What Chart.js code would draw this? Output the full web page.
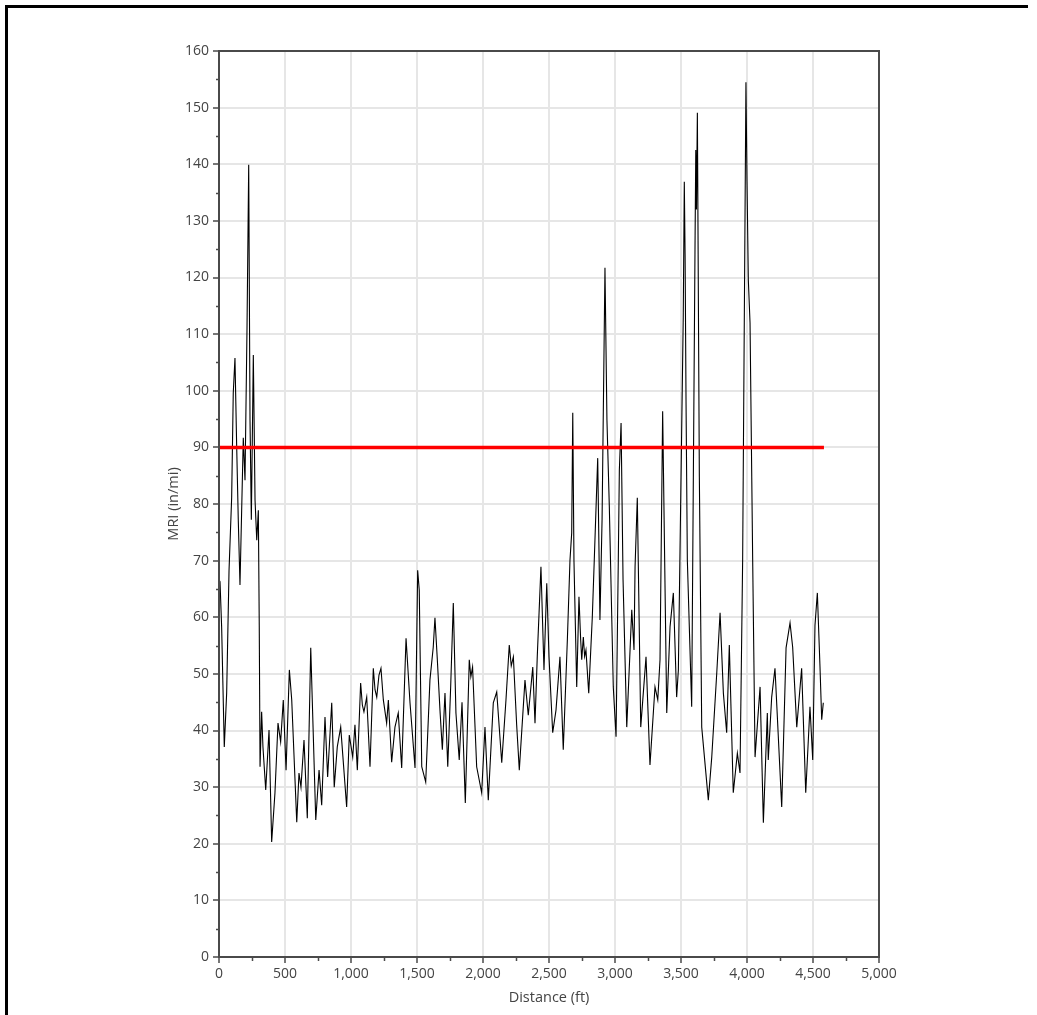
<!DOCTYPE html>
<html>
<head>
<meta charset="utf-8">
<script src="https://cdn.jsdelivr.net/npm/chart.js@4.4.1/dist/chart.umd.min.js"></script>
<style>
  body { margin: 0; background: #fff; }
  .frame {
    position: absolute; left: 5px; top: 5px; width: 1020px; height: 1010px;
    border-top: 3px solid #000; border-left: 3px solid #000;
  }
  #mriChart { position: absolute; left: 0; top: 0; }
</style>
</head>
<body>
<div class="frame"></div>
<canvas id="mriChart" width="1037" height="1015"></canvas>
<script>
// distance along the profile (ft)
const distance = [
  0, 8, 20, 40, 58, 76, 96, 108, 121, 134, 146, 159, 184, 197, 212, 225, 235, 245, 260, 273,
  286, 298, 305, 311, 323, 333, 354, 379, 399, 424, 447, 467, 487, 508, 533, 551, 589, 606, 621, 644,
  669, 695, 733, 758, 778, 803, 823, 854, 873, 896, 922, 967, 987, 1013, 1030, 1048, 1073, 1086, 1098, 1119, 1144,
  1169, 1182, 1195, 1212, 1227, 1245, 1270, 1283, 1308, 1333, 1358, 1384, 1417, 1447, 1485, 1505, 1517, 1536, 1566, 1598, 1623, 1636,
  1654, 1674, 1692, 1712, 1733, 1755, 1775, 1795, 1820, 1841, 1866, 1896, 1908, 1921, 1952, 1990, 2015, 2040, 2078, 2104, 2142,
  2174, 2199, 2214, 2230, 2255, 2275, 2318, 2343, 2377, 2394, 2411, 2439, 2462, 2483, 2500, 2528, 2553, 2583, 2608, 2639, 2659,
  2672, 2680, 2689, 2710, 2727, 2740, 2748, 2760, 2770, 2780, 2801, 2828, 2843, 2869, 2886, 2902, 2924, 2939, 2957, 2987, 3008,
  3025, 3033, 3046, 3061, 3089, 3127, 3144, 3152, 3169, 3195, 3235, 3265, 3303, 3324, 3341, 3361, 3392, 3417, 3442, 3467,
  3480, 3517, 3525, 3531, 3538, 3548, 3581, 3606, 3612, 3617, 3624, 3639, 3657, 3707, 3733, 3771, 3796, 3821, 3846, 3866, 3896, 3927, 3947,
  3967, 3992, 4000, 4010, 4023, 4043, 4061, 4099, 4124, 4154, 4161, 4187, 4212, 4230, 4263, 4296, 4326, 4346, 4377, 4414, 4445,
  4477, 4498, 4515, 4533, 4553, 4566, 4578
];

// MRI (in/mi)
const mri = [
  65.7, 66.1, 58.3, 37.1, 46.6, 68.3, 81.2, 99.6, 105.8, 90.1, 77.2, 65.7, 91.7, 84.2, 110.7, 139.9, 94.8, 77.2, 106.3, 80.7,
  73.6, 78.9, 58.3, 33.6, 43.3, 37.1, 29.5, 40.1, 20.3, 29.0, 41.3, 38.0, 45.4, 33.0, 50.7, 45.4, 23.8, 32.5, 30.0, 38.3,
  24.5, 54.6, 24.2, 33.0, 26.8, 42.4, 31.8, 44.9, 30.0, 37.1, 40.6, 26.5, 39.2, 35.3, 41.0, 33.0, 48.4, 44.5, 43.3, 45.9, 33.6,
  51.0, 47.2, 45.9, 49.8, 51.0, 45.4, 41.3, 45.4, 34.4, 40.6, 43.1, 33.4, 56.3, 44.9, 33.4, 68.3, 64.8, 33.6, 30.9, 48.9, 54.7, 59.9,
  52.5, 43.6, 36.6, 46.6, 33.6, 47.7, 62.5, 43.1, 34.8, 45.0, 27.2, 52.5, 49.5, 51.2, 33.6, 29.0, 40.6, 27.7, 44.9, 46.8, 34.3,
  45.4, 55.1, 51.4, 53.0, 41.0, 33.0, 48.9, 42.7, 51.2, 41.3, 53.0, 68.9, 50.7, 66.0, 53.0, 39.6, 43.6, 53.0, 36.6, 56.0, 70.1,
  74.9, 96.1, 70.1, 47.7, 63.6, 56.0, 52.5, 56.5, 53.1, 54.2, 46.6, 60.0, 70.1, 88.1, 59.5, 77.2, 121.7, 94.8, 79.5, 47.7, 38.9,
  70.1, 86.0, 94.3, 66.6, 40.6, 61.3, 54.2, 68.9, 81.1, 40.6, 53.0, 33.9, 47.7, 45.4, 52.5, 96.4, 43.1, 58.3, 64.3, 45.9,
  50.7, 113.0, 136.9, 124.0, 98.4, 70.1, 44.2, 124.9, 142.5, 132.0, 149.1, 84.8, 40.6, 27.7, 35.3, 50.2, 60.8, 46.6, 39.6, 55.1, 29.0, 36.0, 32.5,
  70.1, 154.5, 137.0, 119.6, 112.0, 70.1, 35.3, 47.7, 23.7, 43.1, 34.8, 45.9, 51.0, 42.4, 26.5, 54.6, 59.0, 54.7, 40.6, 51.0, 29.0,
  44.2, 34.8, 58.6, 64.3, 51.2, 41.9, 44.9
];

// threshold line
const thresholdX = [0, 4583];
const thresholdValue = 90;

// axis settings
const xMin = 0, xMax = 5000, xStep = 500, xMinorStep = 250;
const yMin = 0, yMax = 160, yStep = 10, yMinorStep = 5;

const profilePoints = distance.map((d, i) => ({ x: d, y: mri[i] }));
const thresholdPoints = thresholdX.map(d => ({ x: d, y: thresholdValue }));

const tickFont = { family: "'Open Sans', 'Noto Sans', sans-serif", size: 14 };
const titleFont = { family: "'Open Sans', 'Noto Sans', sans-serif", size: 14.5 };
const axisColor = '#4a4a4a';

// petits traits secondaires + cadre du graphique
const frameAndMinorTicks = {
  id: 'frameAndMinorTicks',
  afterDraw(chart) {
    const ctx = chart.ctx;
    const area = chart.chartArea;
    const xs = chart.scales.x;
    const ys = chart.scales.y;
    ctx.save();
    ctx.strokeStyle = axisColor;
    ctx.lineWidth = 1.5;
    for (let v = yMin + yMinorStep; v < yMax; v += yStep) {
      const py = Math.round(ys.getPixelForValue(v)) + 0.5;
      ctx.beginPath();
      ctx.moveTo(area.left - 3, py);
      ctx.lineTo(area.left, py);
      ctx.stroke();
    }
    for (let v = xMin + xMinorStep; v < xMax; v += xStep) {
      const px = Math.round(xs.getPixelForValue(v)) + 0.5;
      ctx.beginPath();
      ctx.moveTo(px, area.bottom);
      ctx.lineTo(px, area.bottom + 4);
      ctx.stroke();
    }
    ctx.lineWidth = 2;
    ctx.strokeRect(area.left, area.top, area.right - area.left, area.bottom - area.top);
    ctx.restore();
  }
};

new Chart(document.getElementById('mriChart').getContext('2d'), {
  type: 'line',
  data: {
    datasets: [
      {
        label: 'Threshold',
        data: thresholdPoints,
        borderColor: '#ff0000',
        borderWidth: 3.5,
        pointRadius: 0
      },
      {
        label: 'MRI',
        data: profilePoints,
        borderColor: '#000000',
        borderWidth: 1.1,
        pointRadius: 0,
        tension: 0
      }
    ]
  },
  options: {
    responsive: false,
    animation: false,
    events: [],
    layout: { padding: { left: 165, right: 158, top: 51, bottom: 8 } },
    plugins: {
      legend: { display: false },
      tooltip: { enabled: false }
    },
    scales: {
      x: {
        type: 'linear',
        min: xMin,
        max: xMax,
        afterFit: (scale) => { scale.height = 50; },
        ticks: {
          stepSize: xStep,
          color: '#444',
          font: tickFont,
          padding: 3,
          maxRotation: 0,
          callback: (v) => v.toLocaleString('en-US')
        },
        grid: { color: '#e6e6e6', lineWidth: 2, tickLength: 6, tickColor: axisColor, tickWidth: 1.5 },
        border: { color: axisColor, width: 2 },
        title: { display: true, text: 'Distance (ft)', color: '#444', font: titleFont, padding: 0 }
      },
      y: {
        min: yMin,
        max: yMax,
        afterFit: (scale) => { scale.width = 54; },
        ticks: { stepSize: yStep, color: '#444', font: tickFont, padding: 4 },
        grid: { color: '#e6e6e6', lineWidth: 2, tickLength: 6, tickColor: axisColor, tickWidth: 1.5 },
        border: { color: axisColor, width: 2 },
        title: { display: true, text: 'MRI (in/mi)', color: '#444', font: titleFont, padding: 0 }
      }
    }
  },
  plugins: [frameAndMinorTicks]
});
</script>
</body>
</html>
